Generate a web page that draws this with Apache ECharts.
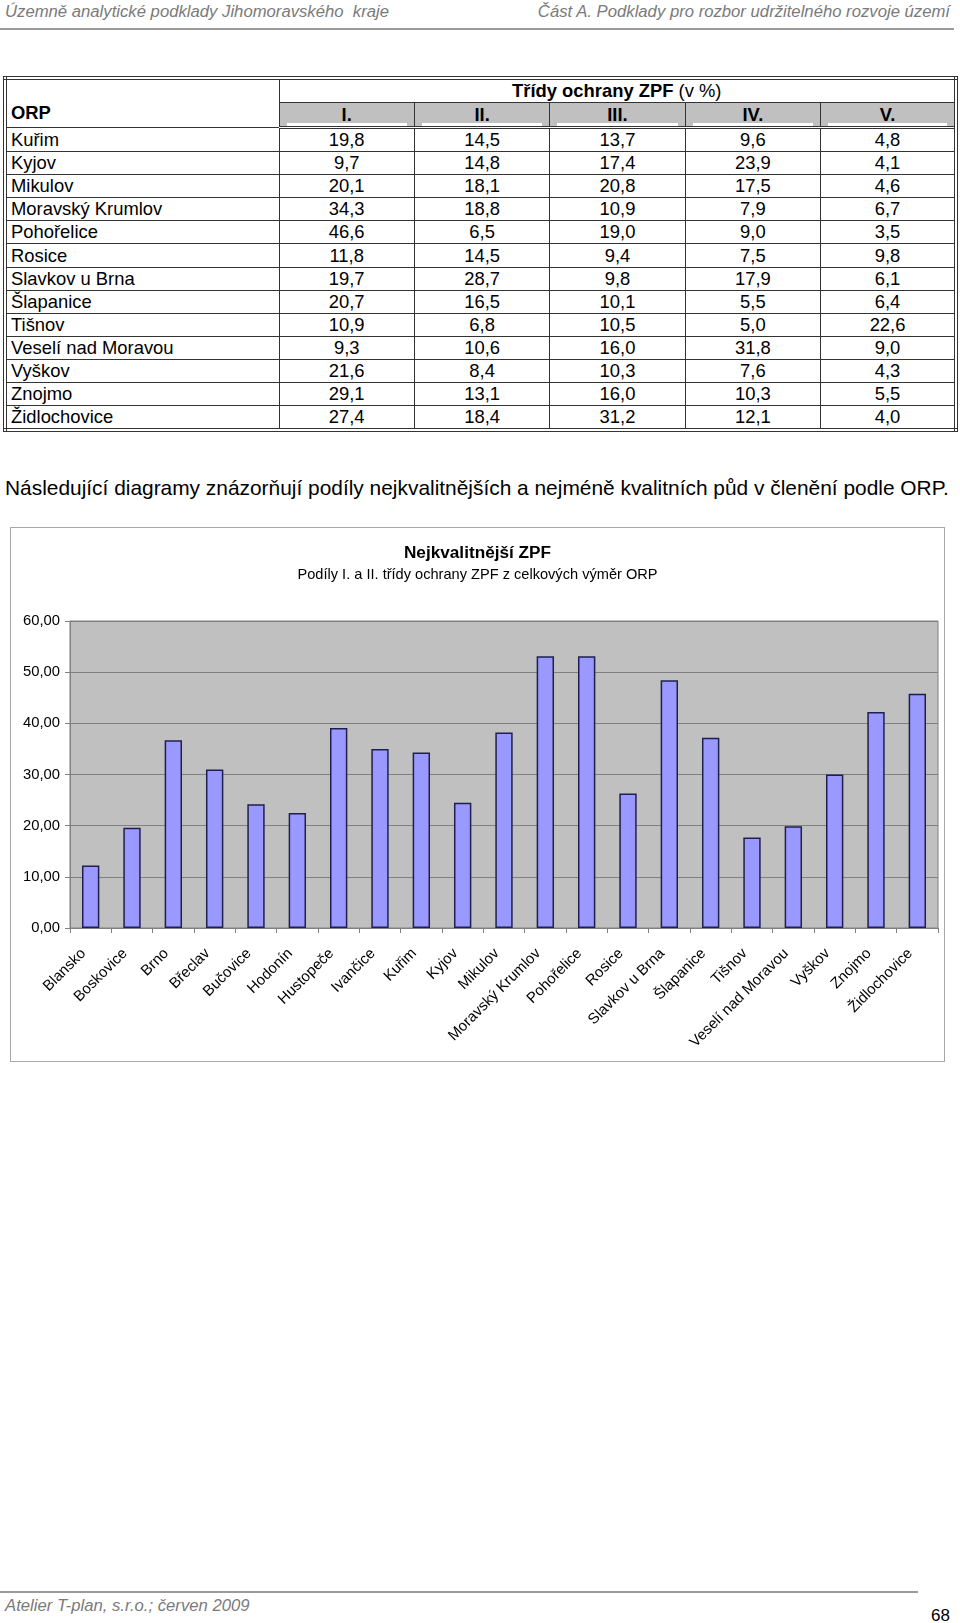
<!DOCTYPE html>
<html>
<head>
<meta charset="utf-8">
<script src="https://cdn.jsdelivr.net/npm/echarts@6/dist/echarts.min.js"></script>
<style>
  html, body { margin: 0; padding: 0; background: #fff; }
  body { width: 960px; height: 1623px; position: relative; overflow: hidden; font-family: "Liberation Sans", Arial, sans-serif; color: #000; }
  .hdr { position: absolute; top: 2px; font-style: italic; color: #7a7a7a; font-size: 16.7px; white-space: nowrap; }
  .hline { position: absolute; left: 0; top: 28px; width: 954px; height: 2px; background: #9a9a9a; }
  table.zpf { position: absolute; left: 3px; top: 76px; width: 955px; border-collapse: collapse; border: 4px double #333; font-size: 18.4px; table-layout: fixed; }
  table.zpf td, table.zpf th { border: 1px solid #333; padding: 0; height: 22.1px; line-height: 22px; overflow: hidden; white-space: nowrap; }
  table.zpf td.name { text-align: left; padding-left: 4px; }
  table.zpf td.num { text-align: center; }
  table.zpf th { font-weight: bold; }
  table.zpf th.orp { text-align: left; padding-left: 4px; vertical-align: bottom; padding-bottom: 3px; }
  table.zpf th.cls { background: #c0c0c0; position: relative; height: 23px; }
  table.zpf th.cls span.bar { position: absolute; left: 7px; right: 7px; bottom: 0px; height: 3px; background: #fff; }
  table.zpf tr.h2 th { border-bottom: 3px double #333; }
  .para { position: absolute; left: 5px; top: 476px; font-size: 20.9px; white-space: nowrap; }
  #chart { position: absolute; left: 9.5px; top: 526.5px; width: 935px; height: 535px; }
  .frame { position: absolute; left: 9.5px; top: 526.5px; width: 935px; height: 535px; box-sizing: border-box; border: 1.5px solid #a8a8a8; pointer-events: none; }
  .fline { position: absolute; left: 0; top: 1591px; width: 918px; height: 1.5px; background: #9a9a9a; }
  .ftr { position: absolute; left: 5px; top: 1596px; font-style: italic; color: #7a7a7a; font-size: 16.7px; white-space: nowrap; }
  .pg { position: absolute; left: 931px; top: 1606px; font-size: 17px; color: #000; }
</style>
</head>
<body>
<div class="hdr" style="left:5px;">Územně analytické podklady Jihomoravského&nbsp; kraje</div>
<div class="hdr" style="right:10px;">Část A. Podklady pro rozbor udržitelného rozvoje území</div>
<div class="hline"></div>

<table class="zpf" id="tbl"></table>

<div class="para">Následující diagramy znázorňují podíly nejkvalitnějších a nejméně kvalitních půd v členění podle ORP.</div>

<div id="chart"></div>
<div class="frame"></div>

<div class="fline"></div>
<div class="ftr">Atelier T-plan, s.r.o.; červen 2009</div>
<div class="pg">68</div>

<script>
// ---- Table data ----
const tableOrp = ['Kuřim','Kyjov','Mikulov','Moravský Krumlov','Pohořelice','Rosice','Slavkov u Brna','Šlapanice','Tišnov','Veselí nad Moravou','Vyškov','Znojmo','Židlochovice'];
const classHeaders = ['I.','II.','III.','IV.','V.'];
const classI   = [19.8, 9.7, 20.1, 34.3, 46.6, 11.8, 19.7, 20.7, 10.9, 9.3, 21.6, 29.1, 27.4];
const classII  = [14.5, 14.8, 18.1, 18.8, 6.5, 14.5, 28.7, 16.5, 6.8, 10.6, 8.4, 13.1, 18.4];
const classIII = [13.7, 17.4, 20.8, 10.9, 19.0, 9.4, 9.8, 10.1, 10.5, 16.0, 10.3, 16.0, 31.2];
const classIV  = [9.6, 23.9, 17.5, 7.9, 9.0, 7.5, 17.9, 5.5, 5.0, 31.8, 7.6, 10.3, 12.1];
const classV   = [4.8, 4.1, 4.6, 6.7, 3.5, 9.8, 6.1, 6.4, 22.6, 9.0, 4.3, 5.5, 4.0];

// ---- Chart data ----
const chartCategories = ['Blansko','Boskovice','Brno','Břeclav','Bučovice','Hodonín','Hustopeče','Ivančice','Kuřim','Kyjov','Mikulov','Moravský Krumlov','Pohořelice','Rosice','Slavkov u Brna','Šlapanice','Tišnov','Veselí nad Moravou','Vyškov','Znojmo','Židlochovice'];
const chartValues = [12.2, 19.6, 36.7, 31.0, 24.2, 22.5, 39.1, 35.0, 34.3, 24.5, 38.2, 53.1, 53.1, 26.3, 48.4, 37.2, 17.7, 19.9, 30.0, 42.2, 45.8];
const yTicks = { min: 0, max: 60, interval: 10 };

// ---- Build table ----
const fmt1 = v => v.toFixed(1).replace('.', ',');
const cols = [classI, classII, classIII, classIV, classV];
let html = '<colgroup><col style="width:274px">' + classHeaders.map(() => '<col>').join('') + '</colgroup>';
html += '<tr><th class="orp" rowspan="2">ORP</th><th colspan="5" style="font-weight:bold;height:22px;">Třídy ochrany ZPF <span style="font-weight:normal">(v %)</span></th></tr>';
html += '<tr class="h2">' + classHeaders.map(h => '<th class="cls">' + h + '<span class="bar"></span></th>').join('') + '</tr>';
tableOrp.forEach((n, i) => {
  html += '<tr><td class="name">' + n + '</td>' + cols.map(c => '<td class="num">' + fmt1(c[i]) + '</td>').join('') + '</tr>';
});
document.getElementById('tbl').innerHTML = html;

// ---- Chart ----
const chart = echarts.init(document.getElementById('chart'), null, { renderer: 'canvas' });
const FONT = '"Liberation Sans", Arial, sans-serif';
chart.setOption({
  animation: false,
  backgroundColor: '#ffffff',
  title: {
    text: 'Nejkvalitnější ZPF',
    subtext: 'Podíly I. a II. třídy ochrany ZPF z celkových výměr ORP',
    left: 'center',
    top: 13,
    itemGap: 5,
    textStyle: { fontFamily: FONT, fontSize: 17.2, fontWeight: 'bold', color: '#000' },
    subtextStyle: { fontFamily: FONT, fontSize: 14.6, color: '#000' }
  },
  grid: {
    left: 60, right: 7, top: 94, bottom: 134,
    show: true, backgroundColor: '#c0c0c0', borderColor: '#808080', borderWidth: 1,
    containLabel: false
  },
  xAxis: {
    type: 'category',
    data: chartCategories,
    axisLine: { show: true, lineStyle: { color: '#808080', width: 1 } },
    axisTick: { show: true, alignWithLabel: false, length: 5, lineStyle: { color: '#808080' } },
    axisLabel: { interval: 0, rotate: 45, margin: 16, padding: [0, 10, 0, 0], fontFamily: FONT, fontSize: 15, color: '#000' }
  },
  yAxis: {
    type: 'value',
    min: yTicks.min, max: yTicks.max, interval: yTicks.interval,
    axisLine: { show: true, lineStyle: { color: '#808080', width: 1 } },
    axisTick: { show: true, length: 5, lineStyle: { color: '#808080' } },
    splitLine: { show: true, lineStyle: { color: '#808080', width: 1 } },
    axisLabel: { margin: 10, fontFamily: FONT, fontSize: 14.8, color: '#000', formatter: v => v.toFixed(2).replace('.', ',') }
  },
  series: [{
    type: 'bar',
    data: chartValues,
    barWidth: '42%',
    itemStyle: { color: '#9999ff', borderColor: '#1f1f4f', borderWidth: 1.5 }
  }]
});
</script>
</body>
</html>
